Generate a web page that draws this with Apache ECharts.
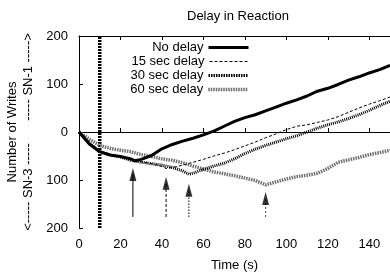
<!DOCTYPE html>
<html><head><meta charset="utf-8">
<script src="https://cdn.jsdelivr.net/npm/echarts@6/dist/echarts.min.js"></script>
<style>html,body{margin:0;padding:0;background:#fff}#c{width:390px;height:277px}</style>
</head><body><div id="c"></div>
<script>
const xTicks = [0,20,40,60,80,100,120,140];
const yTicks = [-200,-100,0,100,200];
const seriesNames = ['No delay','15 sec delay','30 sec delay','60 sec delay'];
const tNo = [0,5,10,15,20,25,27,30,35,40,45,50,55,60,65,70,75,80,85,90,95,100,105,110,115,120,125,130,135,140,145,150];
const vNo = [0,-25,-41,-48,-51,-56,-60,-57,-49,-35,-26,-19,-13,-6,2,12,22,30,36,44,52,60,67,75,85,91,99,108,115,123,130,139];
const t15 = [0,5,10,15,20,25,30,35,40,42,45,50,55,60,65,70,75,80,85,90,95,100,105,110,115,120,125,130,135,140,145,150];
const v15 = [0,-23,-40,-47,-51,-57,-62,-66,-72,-76,-74,-69,-63,-57,-50,-44,-37,-29,-21,-12,-4,5,12,15,20,25,32,41,50,58,65,73];
const t30 = [0,5,10,15,20,25,30,35,40,45,50,53,55,60,65,70,75,80,85,90,95,100,105,110,115,120,125,130,135,140,145,150];
const v30 = [0,-23,-41,-48,-52,-59,-63,-66,-69,-74,-81,-88,-86,-78,-71,-65,-56,-45,-36,-28,-21,-14,-8,0,8,15,21,28,36,45,55,64];
const t60 = [0,5,10,15,20,25,30,35,40,45,50,55,60,65,70,75,80,85,90,95,100,105,110,115,120,125,130,135,140,145,150];
const v60 = [0,-15,-28,-34,-38,-41,-47,-51,-56,-59,-64,-71,-77,-83,-87,-91,-96,-101,-110,-104,-98,-93,-90,-86,-76,-63,-58,-53,-47,-43,-38];
const attackTime = 10;
const arrowX = [26,42,53,90];
const arrowTop = [-75,-93,-108,-125];
const arrowBottom = -177;

const FONT = 'Liberation Sans';
const zip = (t,v) => t.map((x,i)=>[x,v[i]]);
const lineStyles = [
  {color:'#000',width:3,type:'solid'},
  {color:'#000',width:1,type:[3,2]},
  {color:'#000',width:3,type:[1,1]},
  {color:'#6e6e6e',width:3.5,type:[1.5,1]}
];
const legendLineStyles = [
  {color:'#000',width:3,type:'solid'},
  {color:'#000',width:1,type:[3,2]},
  {color:'#000',width:3,type:[1.5,1]},
  {color:'#6e6e6e',width:3.5,type:[1.5,1]}
];
const arrowStyles = [
  {color:'#000',width:1,type:'solid'},
  {color:'#000',width:1,type:[3,2]},
  {color:'#000',width:1,type:[1.5,1.5]},
  {color:'#444',width:1,type:[2,2]}
];
const datasets = [zip(tNo,vNo),zip(t15,v15),zip(t30,v30),zip(t60,v60)];
const series = [];
series.push({type:'line',data:[[attackTime,-200],[attackTime,200]],symbol:'none',silent:true,
  lineStyle:{color:'#000',width:3.5,type:[2,1]},z:1});
seriesNames.forEach((n,i)=>{
  series.push({name:n,type:'line',data:datasets[i],symbol:'none',lineStyle:lineStyles[i],
    itemStyle:{color:lineStyles[i].color},z:5-i+2});
});
arrowX.forEach((x,i)=>{
  series.push({type:'line',data:[[x,arrowBottom],[x,arrowTop[i]-12]],symbol:'none',silent:true,
    lineStyle:arrowStyles[i],z:3});
});
series.push({type:'scatter',data:arrowX.map((x,i)=>[x,arrowTop[i]]),symbol:'triangle',
  symbolSize:[7,13],symbolOffset:[0,'50%'],itemStyle:{color:'#000'},silent:true,z:4});

const legends = seriesNames.map((n,i)=>({
  data:[n],right:140,top:41+i*14,itemWidth:40,itemHeight:10,itemGap:0,padding:0,
  itemStyle:{opacity:0},
  lineStyle:legendLineStyles[i],
  textStyle:{fontFamily:FONT,fontSize:13,color:'#000'},align:'right',selectedMode:false
}));

const chart = echarts.init(document.getElementById('c'),null,{renderer:'canvas'});
chart.setOption({
  animation:false,
  title:{text:'Delay in Reaction',left:182,top:5,
    textStyle:{fontFamily:FONT,fontSize:13,fontWeight:'normal',color:'#000'}},
  legend:legends,
  grid:{left:79,right:0,top:36,bottom:49},
  xAxis:[{type:'value',min:0,max:150,interval:20,
    name:'Time (s)',nameLocation:'middle',nameGap:31,
    nameTextStyle:{fontFamily:FONT,fontSize:13,color:'#000'},
    axisLine:{lineStyle:{color:'#000',width:1}},
    axisTick:{inside:true,length:4,lineStyle:{color:'#000'}},
    axisLabel:{fontFamily:FONT,fontSize:13,color:'#000',margin:10,showMaxLabel:false,
      formatter:v=>xTicks.includes(v)?String(v):''},
    splitLine:{show:false}},
   {type:'value',position:'top',min:0,max:150,interval:20,
    axisLine:{lineStyle:{color:'#000',width:1}},
    axisTick:{inside:true,length:4,lineStyle:{color:'#000'}},
    axisLabel:{show:false},splitLine:{show:false}}],
  yAxis:{type:'value',min:-200,max:200,interval:100,
    axisLine:{show:true,lineStyle:{color:'#000',width:1}},
    axisTick:{show:true,inside:true,length:4,lineStyle:{color:'#000'}},
    axisLabel:{fontFamily:FONT,fontSize:13,color:'#000',margin:11,
      formatter:v=>yTicks.includes(v)?String(Math.abs(v)):''},
    splitLine:{show:false}},
  graphic:[
    {type:'text',x:12,y:132,rotation:Math.PI/2,style:{text:'Number of Writes',font:'13px "'+FONT+'"',fill:'#000',align:'center',verticalAlign:'middle'}},
    {type:'text',x:28,y:187,rotation:Math.PI/2,style:{text:'<----- SN-3 -----',font:'13px "'+FONT+'"',fill:'#000',align:'center',verticalAlign:'middle'}},
    {type:'text',x:28,y:77,rotation:Math.PI/2,style:{text:'----- SN-1 ----->',font:'13px "'+FONT+'"',fill:'#000',align:'center',verticalAlign:'middle'}}
  ],
  series:series
});
</script></body></html>
